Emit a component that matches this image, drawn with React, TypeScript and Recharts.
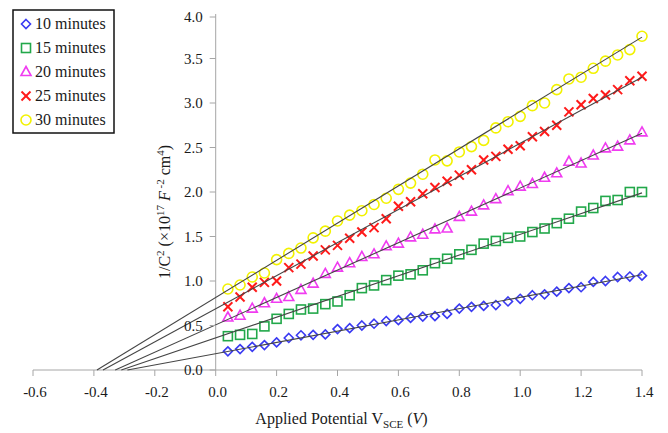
import { ScatterChart, Scatter, XAxis, YAxis, ReferenceLine, Legend } from 'recharts';

const POTENTIAL = [0.04, 0.08, 0.12, 0.16, 0.2, 0.24, 0.28, 0.32, 0.36, 0.4, 0.44, 0.48, 0.52, 0.56, 0.6, 0.64, 0.68, 0.72, 0.76, 0.8, 0.84, 0.88, 0.92, 0.96, 1.0, 1.04, 1.08, 1.12, 1.16, 1.2, 1.24, 1.28, 1.32, 1.36, 1.4];

const MIN_10 = [0.21, 0.235, 0.26, 0.28, 0.31, 0.36, 0.39, 0.395, 0.4, 0.46, 0.47, 0.5, 0.52, 0.55, 0.56, 0.585, 0.6, 0.605, 0.63, 0.69, 0.71, 0.72, 0.73, 0.77, 0.8, 0.84, 0.85, 0.88, 0.92, 0.93, 0.99, 1.0, 1.045, 1.05, 1.06];
const MIN_15 = [0.38, 0.395, 0.405, 0.49, 0.575, 0.63, 0.68, 0.69, 0.74, 0.77, 0.84, 0.92, 0.95, 1.01, 1.06, 1.075, 1.12, 1.2, 1.25, 1.3, 1.35, 1.42, 1.45, 1.485, 1.5, 1.55, 1.59, 1.65, 1.7, 1.78, 1.82, 1.9, 1.91, 2.0, 2.0];
const MIN_20 = [0.59, 0.61, 0.69, 0.75, 0.8, 0.82, 0.9, 0.97, 1.08, 1.15, 1.2, 1.27, 1.3, 1.39, 1.42, 1.49, 1.52, 1.58, 1.59, 1.72, 1.78, 1.85, 1.92, 2.01, 2.06, 2.09, 2.16, 2.21, 2.34, 2.32, 2.41, 2.49, 2.51, 2.58, 2.67];
const MIN_25 = [0.71, 0.82, 0.93, 0.985, 1.0, 1.15, 1.19, 1.28, 1.35, 1.4, 1.48, 1.55, 1.6, 1.7, 1.84, 1.89, 1.98, 2.05, 2.12, 2.19, 2.25, 2.36, 2.4, 2.48, 2.52, 2.62, 2.68, 2.75, 2.9, 2.98, 3.05, 3.09, 3.15, 3.25, 3.3];
const MIN_30 = [0.91, 0.955, 1.045, 1.09, 1.24, 1.31, 1.37, 1.485, 1.56, 1.675, 1.74, 1.79, 1.86, 1.93, 2.03, 2.1, 2.2, 2.36, 2.35, 2.45, 2.51, 2.58, 2.72, 2.79, 2.85, 2.97, 3.0, 3.15, 3.27, 3.29, 3.39, 3.47, 3.54, 3.6, 3.75];

// linear fits: x-intercept and value at the last potential
const FIT_X_INTERCEPT = [-0.29, -0.31, -0.33, -0.37, -0.39];
const FIT_END_VALUE = [1.07, 1.99, 2.66, 3.29, 3.74];

const SERIES_NAMES = ['10 minutes', '15 minutes', '20 minutes', '25 minutes', '30 minutes'];
const SERIES_VALUES = [MIN_10, MIN_15, MIN_20, MIN_25, MIN_30];
const COLORS = ['#3a3af2', '#22a84a', '#f03cf0', '#ff1a1a', '#f2f200'];
const MARKERS = ['diamond', 'square', 'triangle', 'cross', 'circle'];

const X_TICKS = [-0.6, -0.4, -0.2, 0.0, 0.2, 0.4, 0.6, 0.8, 1.0, 1.2, 1.4];
const Y_TICKS = [0.0, 0.5, 1.0, 1.5, 2.0, 2.5, 3.0, 3.5, 4.0];

const W = 660;
const H = 425;
const MARGIN = { top: 6, right: 26, bottom: 8, left: 24 };
const Y_AXIS_W = 1;
const X_AXIS_H = 55;
const X_MIN = -0.6;
const X_MAX = 1.4;
const PLOT_LEFT = MARGIN.left + Y_AXIS_W;
const PLOT_W = W - PLOT_LEFT - MARGIN.right;
const AXIS_X = PLOT_LEFT + (PLOT_W * (0 - X_MIN)) / (X_MAX - X_MIN);
const FONT = "'Liberation Serif', 'DejaVu Serif', serif";
const TEXT = '#1a1a1a';
const AXIS_GRAY = '#a6a6a6';
const serif = { fontFamily: FONT };

function Marker({ kind, cx, cy, color }: { kind: string; cx: number; cy: number; color: string }) {
  if (kind === 'diamond') {
    return <polygon points={`${cx},${cy - 4.5} ${cx + 4.5},${cy} ${cx},${cy + 4.5} ${cx - 4.5},${cy}`} fill="none" stroke={color} strokeWidth={1.6} />;
  }
  if (kind === 'square') {
    return <rect x={cx - 4.5} y={cy - 4.5} width={9} height={9} fill="none" stroke={color} strokeWidth={1.6} />;
  }
  if (kind === 'triangle') {
    return <polygon points={`${cx},${cy - 5.5} ${cx + 5},${cy + 3.5} ${cx - 5},${cy + 3.5}`} fill="none" stroke={color} strokeWidth={1.6} />;
  }
  if (kind === 'cross') {
    return (
      <g stroke={color} strokeWidth={2}>
        <line x1={cx - 4.5} y1={cy - 4.5} x2={cx + 4.5} y2={cy + 4.5} />
        <line x1={cx - 4.5} y1={cy + 4.5} x2={cx + 4.5} y2={cy - 4.5} />
      </g>
    );
  }
  return <circle cx={cx} cy={cy} r={5} fill="none" stroke={color} strokeWidth={1.6} />;
}

function YTick(props: any) {
  const { y, payload } = props;
  return (
    <g>
      <line x1={AXIS_X - 6} y1={y} x2={AXIS_X} y2={y} stroke={AXIS_GRAY} />
      <text x={AXIS_X - 13} y={y} dy={5} textAnchor="end" fontSize={15} style={serif} fill={TEXT}>
        {Number(payload.value).toFixed(1)}
      </text>
    </g>
  );
}

function XTick(props: any) {
  const { x, y, payload } = props;
  return (
    <text x={x + 2} y={y} dy={19} textAnchor="middle" fontSize={15} style={serif} fill={TEXT}>
      {Number(payload.value).toFixed(1)}
    </text>
  );
}

function XLabel(props: any) {
  const vb = props.viewBox || { x: 0, y: 0, width: 0, height: 0 };
  return (
    <text x={vb.x + vb.width / 2 + 4} y={vb.y + 54} textAnchor="middle" fontSize={16} style={serif} fill={TEXT}>
      Applied Potential V
      <tspan fontSize={11} dy={4}>SCE</tspan>
      <tspan dy={-4}> (</tspan>
      <tspan fontStyle="italic">V</tspan>
      <tspan>)</tspan>
    </text>
  );
}

function YLabel() {
  const x = AXIS_X - 46;
  const y = MARGIN.top + (H - MARGIN.top - MARGIN.bottom - X_AXIS_H) / 2 + 20;
  return (
    <text x={x} y={y} transform={`rotate(-90, ${x}, ${y})`} textAnchor="middle" fontSize={16} style={serif} fill={TEXT}>
      1/C
      <tspan fontSize={11} dy={-6}>2</tspan>
      <tspan dy={6}> (×10</tspan>
      <tspan fontSize={11} dy={-6}>17</tspan>
      <tspan dy={6}> </tspan>
      <tspan fontStyle="italic">F</tspan>
      <tspan fontSize={11} dy={-6}> -2</tspan>
      <tspan dy={6}> cm</tspan>
      <tspan fontSize={11} dy={-6}>4</tspan>
      <tspan dy={6}>)</tspan>
    </text>
  );
}

function LegendBox() {
  return (
    <svg width={103} height={125}>
      <rect x={1} y={1} width={101} height={123} fill="#fff" stroke="#111" strokeWidth={1.5} />
      {SERIES_NAMES.map((name, i) => (
        <g key={name}>
          <Marker kind={MARKERS[i]} cx={14} cy={15 + i * 24} color={COLORS[i]} />
          <text x={23} y={20 + i * 24} fontSize={16} style={serif} fill={TEXT}>
            {name}
          </text>
        </g>
      ))}
    </svg>
  );
}

export default function App() {
  const seriesData = SERIES_VALUES.map(values => values.map((v, i) => ({ x: POTENTIAL[i], y: v })));
  const fitData = FIT_X_INTERCEPT.map((x0, i) => [
    { x: x0, y: 0 },
    { x: POTENTIAL[POTENTIAL.length - 1], y: FIT_END_VALUE[i] },
  ]);

  return (
    <div style={{ width: W, height: H }}>
      <ScatterChart width={W} height={H} margin={MARGIN}>
        <XAxis
          type="number"
          dataKey="x"
          domain={[X_MIN, X_MAX]}
          ticks={X_TICKS}
          stroke={AXIS_GRAY}
          tickSize={6}
          height={X_AXIS_H}
          tick={<XTick />}
          label={<XLabel />}
        />
        <YAxis
          type="number"
          dataKey="y"
          domain={[0, 4]}
          ticks={Y_TICKS}
          width={Y_AXIS_W}
          axisLine={false}
          tickLine={false}
          tick={<YTick />}
        />
        <ReferenceLine x={0} stroke={AXIS_GRAY} />
        {seriesData.map((data, i) => (
          <Scatter
            key={SERIES_NAMES[i]}
            name={SERIES_NAMES[i]}
            data={data}
            isAnimationActive={false}
            shape={(p: any) => <Marker kind={MARKERS[i]} cx={p.cx} cy={p.cy} color={COLORS[i]} />}
          />
        ))}
        {fitData.map((data, i) => (
          <Scatter
            key={`fit-${i}`}
            data={data}
            line={{ stroke: '#454545', strokeWidth: 1.1 }}
            shape={() => <g />}
            legendType="none"
            isAnimationActive={false}
          />
        ))}
        <Legend
          layout="vertical"
          align="center"
          verticalAlign="middle"
          wrapperStyle={{ left: 4, top: 1, width: 103, height: 125 }}
          content={() => <LegendBox />}
        />
      </ScatterChart>
      <svg width={W} height={H} style={{ position: 'absolute', left: 8, top: 8, pointerEvents: 'none' }}>
        <YLabel />
      </svg>
    </div>
  );
}
